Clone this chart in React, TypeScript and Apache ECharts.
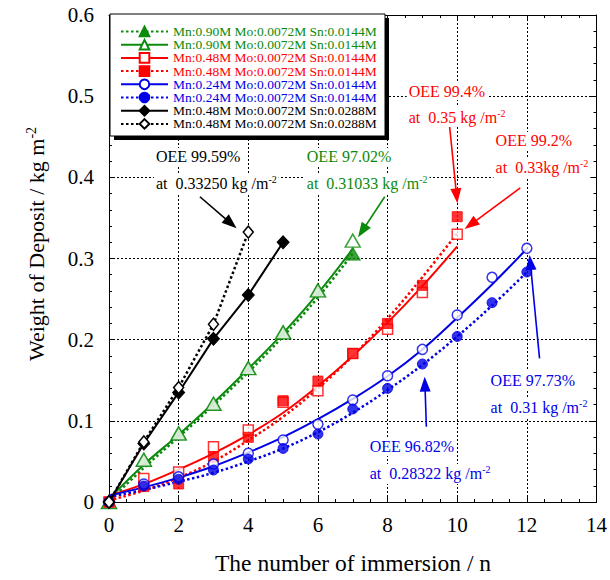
import React, { useEffect, useRef } from "react";
import * as echarts from "echarts";

// ---------- data ----------
const immersion = [0, 1, 2, 3, 4, 5, 6, 7, 8, 9, 10, 11, 12];

// measured points
const greenFilledPts = [0, 0.052, 0.0845, 0.121, 0.165, 0.209, 0.2607, 0.306];
const greenOpenPts = [0, 0.052, 0.0845, 0.121, 0.165, 0.209, 0.2607, 0.322];
const redOpenPts = [0, 0.029, 0.037, 0.068, 0.0887, 0.123, 0.137, 0.183, 0.2128, 0.258, 0.33];
const redFilledPts = [0, 0.019, 0.0222, 0.0558, 0.0797, 0.1248, 0.149, 0.183, 0.22, 0.267, 0.3515];
const blueOpenPts = [0, 0.0222, 0.031, 0.0468, 0.06, 0.0764, 0.0957, 0.1257, 0.1556, 0.188, 0.2304, 0.2768, 0.3125];
const blueFilledPts = [0, 0.0197, 0.028, 0.0394, 0.053, 0.066, 0.0838, 0.1146, 0.14, 0.17, 0.204, 0.2456, 0.2834];
const blackFilledPts = [0, 0.072, 0.135, 0.201, 0.255, 0.32];
const blackOpenPts = [0, 0.074, 0.141, 0.219, 0.3325];

// fitted curves (read at each immersion count)
const greenSolidFit = [0.004, 0.046, 0.083, 0.122, 0.164, 0.208, 0.257, 0.312];
const greenDottedFit = [0.001, 0.042, 0.08, 0.119, 0.16, 0.204, 0.252, 0.306];
const redSolidFit = [0.008, 0.022, 0.04, 0.06, 0.083, 0.11, 0.143, 0.18, 0.221, 0.266, 0.315];
const redDottedFit = [0.002, 0.014, 0.03, 0.05, 0.076, 0.105, 0.14, 0.18, 0.226, 0.277, 0.331];
const blueSolidFit = [0.008, 0.018, 0.03, 0.044, 0.061, 0.08, 0.102, 0.127, 0.155, 0.188, 0.227, 0.268, 0.312];
const blueDottedFit = [0.006, 0.015, 0.025, 0.036, 0.05, 0.066, 0.086, 0.11, 0.138, 0.169, 0.204, 0.242, 0.283];

const legendLabels = [
  "Mn:0.90M Mo:0.0072M Sn:0.0144M",
  "Mn:0.90M Mo:0.0072M Sn:0.0144M",
  "Mn:0.48M Mo:0.0072M Sn:0.0144M",
  "Mn:0.48M Mo:0.0072M Sn:0.0144M",
  "Mn:0.24M Mo:0.0072M Sn:0.0144M",
  "Mn:0.24M Mo:0.0072M Sn:0.0144M",
  "Mn:0.48M Mo:0.0072M Sn:0.0288M",
  "Mn:0.48M Mo:0.0072M Sn:0.0288M",
];

const xTitle = "The number of immersion / n";
const yTitle = "Weight of Deposit / kg m";

// annotation texts
const annoLine1 = ["OEE 99.59%", "OEE 97.02%", "OEE 99.4%", "OEE 99.2%", "OEE 97.73%", "OEE 96.82%"];
const annoLine2 = ["at  0.33250 kg /m", "at  0.31033 kg /m", "at  0.35 kg /m", "at  0.33kg /m", "at  0.31 kg /m", "at  0.28322 kg /m"];

// ---------- styling / layout ----------
const FONT = "'Liberation Serif', 'Times New Roman', serif";
const GREEN = "#0b8a0b";
const RED = "#ff0000";
const BLUE = "#0000e6";
const BLACK = "#000000";
const DOT: number[] = [2.5, 2.5];

const annoLayout = [
  { color: BLACK, text: [1.291, 0.4251], text2: [1.291, 0.3918], tail: [2.611, 0.3761], head: [3.664, 0.3372] },
  { color: GREEN, text: [5.623, 0.4251], text2: [5.623, 0.3918], tail: [7.918, 0.3761], head: [7.152, 0.3261] },
  { color: RED, text: [8.549, 0.5063], text2: [8.549, 0.4743], tail: [9.783, 0.462], head: [10.004, 0.368] },
  { color: RED, text: [11.045, 0.4448], text2: [11.045, 0.4115], tail: [11.811, 0.3869], head: [10.213, 0.3363] },
  { color: BLUE, text: [10.902, 0.1503], text2: [10.902, 0.117], tail: [12.364, 0.177], head: [12.078, 0.3043] },
  { color: BLUE, text: [7.43, 0.0678], text2: [7.43, 0.0345], tail: [9.114, 0.0928], head: [9.066, 0.1544] },
];

type Spec = {
  color: string;
  symbol: string;
  size: number | number[];
  open: boolean;
  dotted: boolean;
  pts: number[];
  fit: number[] | null;
};

const specs: Spec[] = [
  { color: GREEN, symbol: "triangle", size: [15, 13], open: false, dotted: true, pts: greenFilledPts, fit: greenDottedFit },
  { color: GREEN, symbol: "triangle", size: [15, 13], open: true, dotted: false, pts: greenOpenPts, fit: greenSolidFit },
  { color: RED, symbol: "rect", size: 10, open: true, dotted: false, pts: redOpenPts, fit: redSolidFit },
  { color: RED, symbol: "rect", size: 10, open: false, dotted: true, pts: redFilledPts, fit: redDottedFit },
  { color: BLUE, symbol: "circle", size: 10, open: true, dotted: false, pts: blueOpenPts, fit: blueSolidFit },
  { color: BLUE, symbol: "circle", size: 10, open: false, dotted: true, pts: blueFilledPts, fit: blueDottedFit },
  { color: BLACK, symbol: "diamond", size: [12, 13], open: false, dotted: false, pts: blackFilledPts, fit: null },
  { color: BLACK, symbol: "diamond", size: [10, 12], open: true, dotted: true, pts: blackOpenPts, fit: null },
];

// unique legend keys (identical labels are distinguished with trailing spaces)
const legendKeys = legendLabels.map((l, i) => l + " ".repeat(i % 2));

function pairs(vals: number[]) {
  return vals.map((v, i) => [immersion[i], v]);
}

function buildSeries() {
  const series: any[] = [];
  specs.forEach((s, i) => {
    const itemStyle = s.open
      ? { color: "#ffffff", borderColor: s.color, borderWidth: 1.5 }
      : { color: s.color, borderColor: s.color, borderWidth: 1 };
    const lineStyle = { color: s.color, width: s.dotted ? 2.5 : 2, type: s.dotted ? DOT : "solid" };
    if (s.fit) {
      series.push({
        name: legendKeys[i],
        type: "line",
        data: pairs(s.fit),
        smooth: 0.4,
        showSymbol: false,
        symbol: s.symbol,
        symbolSize: s.size,
        itemStyle,
        lineStyle,
        z: 2,
        silent: true,
      });
      series.push({
        name: "points " + i,
        type: "scatter",
        data: pairs(s.pts),
        symbol: s.symbol,
        symbolSize: s.size,
        itemStyle,
        clip: false,
        z: 3 + i * 0.01,
        silent: true,
      });
    } else {
      series.push({
        name: legendKeys[i],
        type: "line",
        data: pairs(s.pts),
        showSymbol: true,
        symbol: s.symbol,
        symbolSize: s.size,
        itemStyle,
        lineStyle,
        clip: false,
        z: 4 + i * 0.01,
        silent: true,
      });
    }
  });
  return series;
}

export default function App() {
  const ref = useRef<HTMLDivElement>(null);

  useEffect(() => {
    if (!ref.current) return;
    document.body.style.margin = "0";
    const chart = echarts.init(ref.current, undefined, { renderer: "svg", width: 610, height: 580 });

    const axisLine = { show: true, onZero: false, lineStyle: { color: BLACK, width: 1 } };
    const axisTick = { show: true, inside: true, length: 6, lineStyle: { color: BLACK, width: 1 } };
    const minorTickX = { show: true, splitNumber: 4, length: 3, lineStyle: { color: BLACK, width: 1 } };
    const minorTickY = { show: true, splitNumber: 5, length: 3, lineStyle: { color: BLACK, width: 1 } };
    const splitLine = { show: true, lineStyle: { color: BLACK, width: 1, type: [2, 2] } };
    const label = { color: BLACK, fontFamily: FONT, fontSize: 21 };
    const legendText = { fontFamily: FONT, fontSize: 13.5, lineHeight: 12 };

    chart.setOption({
      animation: false,
      backgroundColor: "#ffffff",
      textStyle: { fontFamily: FONT },
      grid: { left: 109, top: 15, right: 13, bottom: 78, containLabel: false },
      xAxis: [
        {
          type: "value", min: 0, max: 14, interval: 2, position: "bottom",
          axisLine, axisTick, minorTick: minorTickX, splitLine,
          axisLabel: { ...label, margin: 12 },
        },
        {
          type: "value", min: 0, max: 14, interval: 2, position: "top",
          axisLine, axisTick, minorTick: minorTickX, splitLine: { show: false },
          axisLabel: { show: false },
        },
      ],
      yAxis: [
        {
          type: "value", min: 0, max: 0.6, interval: 0.1, position: "left",
          axisLine, axisTick, minorTick: minorTickY, splitLine,
          axisLabel: { ...label, margin: 15, formatter: (v: number) => (v === 0 ? "0" : v.toFixed(1)) },
        },
        {
          type: "value", min: 0, max: 0.6, interval: 0.1, position: "right",
          axisLine, axisTick, minorTick: minorTickY, splitLine: { show: false },
          axisLabel: { show: false },
        },
      ],
      legend: {
        orient: "vertical",
        left: 120,
        top: 24.5,
        padding: 0,
        itemWidth: 47,
        itemHeight: 12,
        itemGap: -0.8,
        selectedMode: false,
        z: 6,
        formatter: (n: string) => n.trim(),
        textStyle: legendText,
        data: legendKeys.map((k, i) => ({ name: k, textStyle: { ...legendText, color: specs[i].color } })),
      },
      series: buildSeries(),
    });

    const px = (p: number[]) => chart.convertToPixel({ gridIndex: 0 }, p) as number[];

    const graphics: any[] = [];
    // legend frame with shadow
    graphics.push({ type: "rect", shape: { x: 114, y: 18, width: 275, height: 122 }, style: { fill: BLACK }, z: 4 });
    graphics.push({ type: "rect", shape: { x: 110, y: 14, width: 275, height: 122 }, style: { fill: "#ffffff", stroke: BLACK, lineWidth: 1 }, z: 5 });

    // axis titles
    graphics.push({
      type: "text", x: 353, y: 563, z: 10,
      style: { text: xTitle, font: `23.5px ${FONT}`, fill: BLACK, align: "center", verticalAlign: "middle" },
    });
    graphics.push({
      type: "text", x: 36, y: 244, rotation: Math.PI / 2, z: 10,
      style: {
        text: `{a|${yTitle}}{s|-2}`,
        align: "center", verticalAlign: "middle",
        rich: {
          a: { fontFamily: FONT, fontSize: 22, fill: BLACK, lineHeight: 24 },
          s: { fontFamily: FONT, fontSize: 14, fill: BLACK, lineHeight: 14, verticalAlign: "top" },
        },
      },
    });

    // annotations
    annoLayout.forEach((a, i) => {
      const p1 = px(a.text);
      const p2 = px(a.text2);
      graphics.push({
        type: "text", x: p1[0], y: p1[1], z: 10,
        style: {
          text: annoLine1[i], font: `16px ${FONT}`, fill: a.color, align: "left", verticalAlign: "middle",
          backgroundColor: "#ffffff", padding: [1, 2, 1, 2],
        },
      });
      graphics.push({
        type: "text", x: p2[0], y: p2[1], z: 10,
        style: {
          text: `{n|${annoLine2[i]}}{s|-2}`, align: "left", verticalAlign: "middle",
          backgroundColor: "#ffffff", padding: [1, 2, 1, 2],
          rich: {
            n: { fontFamily: FONT, fontSize: 16, fill: a.color, lineHeight: 18 },
            s: { fontFamily: FONT, fontSize: 10, fill: a.color, lineHeight: 10, verticalAlign: "top" },
          },
        },
      });
      const t = px(a.tail);
      const h = px(a.head);
      const dx = h[0] - t[0];
      const dy = h[1] - t[1];
      const len = Math.hypot(dx, dy);
      const ux = dx / len;
      const uy = dy / len;
      const L = 15;
      const W = 5.5;
      const bx = h[0] - ux * L;
      const by = h[1] - uy * L;
      graphics.push({
        type: "line", z: 11,
        shape: { x1: t[0], y1: t[1], x2: bx + ux * 2, y2: by + uy * 2 },
        style: { stroke: a.color, lineWidth: 1.6 },
      });
      graphics.push({
        type: "polygon", z: 11,
        shape: { points: [[h[0], h[1]], [bx - uy * W, by + ux * W], [bx + uy * W, by - ux * W]] },
        style: { fill: a.color },
      });
    });

    chart.setOption({ graphic: graphics });

    return () => chart.dispose();
  }, []);

  return <div ref={ref} style={{ width: 610, height: 580 }} />;
}
